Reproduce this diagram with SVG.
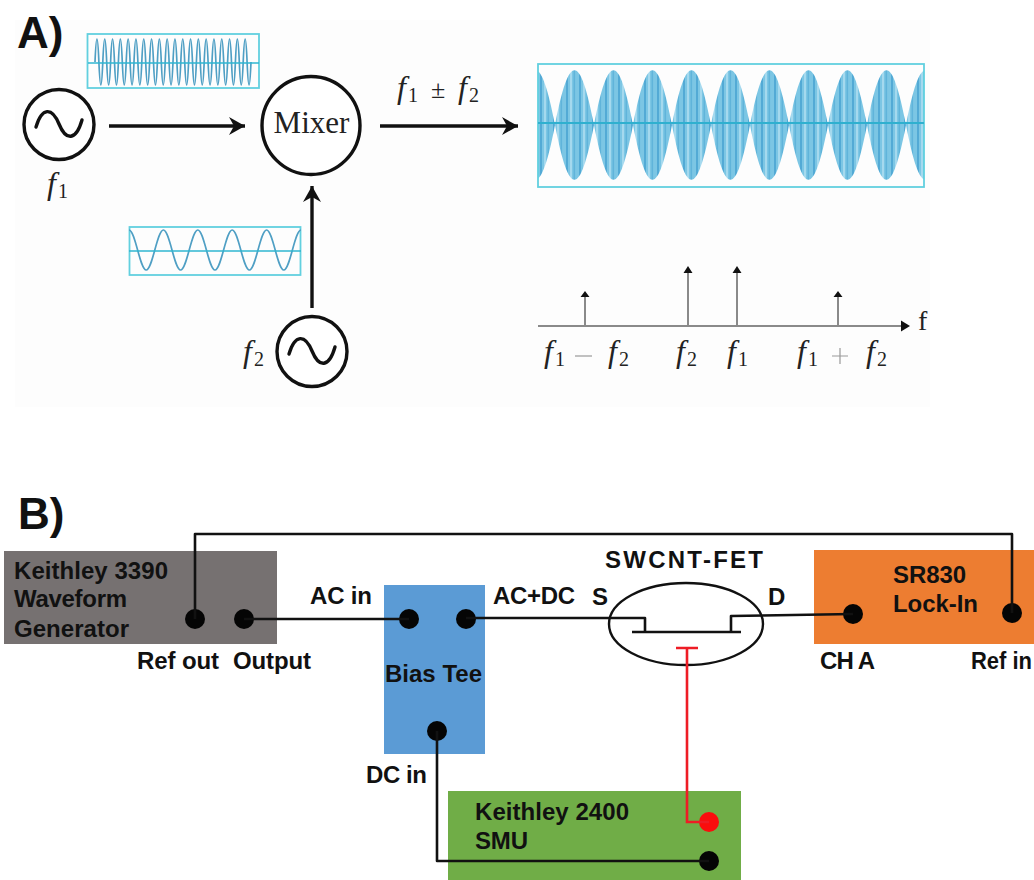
<svg xmlns="http://www.w3.org/2000/svg" width="1034" height="880" viewBox="0 0 1034 880">
<style>
.ser{font-family:"Liberation Serif","Times New Roman",serif;fill:#222}
.it{font-style:italic;font-size:32px}
.sub{font-size:20px;font-style:normal}
.b{font-family:"Liberation Sans",Arial,sans-serif;font-weight:700;font-size:24px;fill:#111}
.head{font-family:"Liberation Sans",Arial,sans-serif;font-weight:700;font-size:44px;fill:#111}
.box{fill:none;stroke:#62d0df;stroke-width:1.8}
.mid{fill:none;stroke:#2fb6d0;stroke-width:1.5}
.sig{fill:none;stroke:#4f9fc4;stroke-width:1.7}
.ring{fill:#fff;stroke:#111;stroke-width:3.4}
.til{fill:none;stroke:#111;stroke-width:3.4;stroke-linecap:round}
.arr{fill:none;stroke:#111;stroke-width:3.4;marker-end:url(#ah)}
.stem{fill:none;stroke:#8a8a8a}
.w{fill:none;stroke:#111;stroke-width:2.6;stroke-linejoin:round}
.dot{fill:#050505}
</style>
<defs>
<marker id="ah" markerUnits="userSpaceOnUse" markerWidth="20" markerHeight="20" refX="16" refY="9" orient="auto"><path d="M0 0L16 9L0 18L5 9Z" fill="#111"/></marker>
<filter id="soft" x="-5%" y="-5%" width="110%" height="110%"><feGaussianBlur stdDeviation="0.6"/></filter>
<pattern id="st" patternUnits="userSpaceOnUse" x="538" y="0" width="13" height="10">
<rect width="13" height="10" fill="#7cc6e4"/>
<rect x="2" width="2" height="10" fill="#52aad5"/>
<rect x="6" width="2" height="10" fill="#a5d9ee"/>
<rect x="9.500" width="1.600" height="10" fill="#60b4da"/>
</pattern>
<clipPath id="cb"><rect x="538" y="64" width="386" height="123"/></clipPath>
</defs>
<rect width="1034" height="880" fill="#fff"/>
<rect x="15" y="20" width="915" height="387" fill="#fdfdfd"/>

<text class="head" x="17" y="48">A)</text>
<text class="head" x="18" y="529">B)</text>

<g id="wave-f1">
<rect class="box" x="87.500" y="34" width="171.500" height="54"/>
<path class="sig" filter="url(#soft)" d="M95 62q1.950-46 3.900 0t3.900 0t3.900 0t3.900 0t3.900 0t3.900 0t3.900 0t3.900 0t3.900 0t3.900 0t3.900 0t3.900 0t3.900 0t3.900 0t3.900 0t3.900 0t3.900 0t3.900 0t3.900 0t3.900 0t3.900 0t3.900 0t3.900 0t3.900 0t3.900 0t3.900 0t3.900 0t3.900 0t3.900 0t3.900 0t3.900 0t3.900 0t3.900 0t3.900 0t3.900 0t3.900 0t3.900 0t3.900 0t3.900 0t3.900 0"/>
<path class="mid" d="M88 63H259"/>
</g>
<g id="source-f1">
<circle class="ring" cx="59" cy="124.500" r="35"/>
<path class="til" d="M36 127C42 107 52 107 59 124C66 141 76 141 82 120"/>
<text class="ser it" x="47" y="194">f<tspan class="sub" dy="4" dx="2">1</tspan></text>
</g>
<g id="mixer">
<circle class="ring" cx="311" cy="125.500" r="49"/>
<text class="ser" x="311.500" y="133" font-size="31" text-anchor="middle">Mixer</text>
</g>
<g id="wave-f2">
<rect class="box" x="129.500" y="227" width="171" height="48"/>
<path class="sig" filter="url(#soft)" d="M129 230c6.300 0 10.900 40 17.200 40s10.900-40 17.200-40s10.900 40 17.200 40s10.900-40 17.200-40s10.900 40 17.200 40s10.900-40 17.200-40s10.900 40 17.200 40s10.900-40 17.200-40s10.900 40 17.200 40s10.900-40 17.200-40"/>
<path class="mid" d="M129 251H301"/>
</g>
<g id="source-f2">
<circle class="ring" cx="312" cy="351.500" r="35"/>
<path class="til" d="M289 354C295 334 305 334 312 351C319 368 329 368 335 347"/>
<text class="ser it" x="243" y="362">f<tspan class="sub" dy="4" dx="2">2</tspan></text>
</g>
<g id="output-label">
<text class="ser it" x="397" y="98">f<tspan class="sub" dy="4" dx="2">1</tspan></text>
<text class="ser" x="431" y="98" font-size="26">±</text>
<text class="ser it" x="458" y="98">f<tspan class="sub" dy="4" dx="2">2</tspan></text>
</g>
<g id="mixed-wave">
<g clip-path="url(#cb)">
<path fill="url(#st)" filter="url(#soft)" d="M516 125c14-73 25-73 39 0c14-73 25-73 39 0c14-73 25-73 39 0c14-73 25-73 39 0c14-73 25-73 39 0c14-73 25-73 39 0c14-73 25-73 39 0c14-73 25-73 39 0c14-73 25-73 39 0c14-73 25-73 39 0c14-73 25-73 39 0V125c-14 73-25 73-39 0c-14 73-25 73-39 0c-14 73-25 73-39 0c-14 73-25 73-39 0c-14 73-25 73-39 0c-14 73-25 73-39 0c-14 73-25 73-39 0c-14 73-25 73-39 0c-14 73-25 73-39 0c-14 73-25 73-39 0c-14 73-25 73-39 0Z"/>
</g>
<rect class="box" x="538" y="64" width="386" height="123"/>
<path d="M538 123H924" fill="none" stroke="#2fb0cf" stroke-width="1.800"/>
</g>
<g id="spectrum">
<path class="stem" stroke-width="2" d="M538 326H902"/>
<path d="M901 320.500L910 326L901 331.500Z" fill="#111"/>
<path class="stem" stroke-width="2" d="M585 326V296M688 326V272M737 326V272M838 326V296"/>
<path d="M585 291L589.500 297H580.500ZM688 266L692.500 273H683.500ZM737 266L741.500 273H732.500ZM838 291L842.500 297H833.500Z" fill="#111"/>
<text class="ser" x="918" y="330" font-size="28">f</text>
<text class="ser it" x="544" y="362">f<tspan class="sub" dy="4" dx="2">1</tspan></text>
<path d="M575 356H592" stroke="#999" stroke-width="1.200"/>
<text class="ser it" x="608" y="362">f<tspan class="sub" dy="4" dx="2">2</tspan></text>
<text class="ser it" x="676" y="362">f<tspan class="sub" dy="4" dx="2">2</tspan></text>
<text class="ser it" x="727" y="362">f<tspan class="sub" dy="4" dx="2">1</tspan></text>
<text class="ser it" x="797" y="362">f<tspan class="sub" dy="4" dx="2">1</tspan></text>
<path d="M832 356H848M840 348V364" stroke="#999" stroke-width="1.200"/>
<text class="ser it" x="866" y="362">f<tspan class="sub" dy="4" dx="2">2</tspan></text>
</g>

<g id="waveform-generator">
<rect x="4" y="551" width="273" height="93" fill="#767171"/>
<text class="b" x="14" y="579" textLength="154">Keithley 3390</text>
<text class="b" x="14" y="607" textLength="113">Waveform</text>
<text class="b" x="14" y="637" textLength="115">Generator</text>
<circle class="dot" cx="195" cy="619" r="10"/>
<circle class="dot" cx="244" cy="619" r="10"/>
</g>
<g id="bias-tee">
<rect x="384" y="585" width="101" height="169" fill="#5b9bd5"/>
<text class="b" x="385" y="682" textLength="97">Bias Tee</text>
<circle class="dot" cx="409" cy="619" r="10"/>
<circle class="dot" cx="466" cy="619" r="10"/>
<circle class="dot" cx="437" cy="731" r="10"/>
</g>
<g id="lock-in">
<rect x="814" y="550" width="220" height="94" fill="#ed7d31"/>
<text class="b" x="893" y="583" textLength="73">SR830</text>
<text class="b" x="893" y="612" textLength="85">Lock-In</text>
<circle class="dot" cx="853" cy="614" r="10"/>
<circle class="dot" cx="1012" cy="613" r="10"/>
</g>
<g id="smu">
<rect x="448" y="791" width="293" height="89" fill="#70ad47"/>
<text class="b" x="475" y="820" textLength="154">Keithley 2400</text>
<text class="b" x="475" y="849" textLength="53">SMU</text>
<circle cx="709" cy="822" r="10" fill="#fa0d0d"/>
<circle class="dot" cx="709" cy="861" r="10"/>
</g>
<g id="swcnt-fet">
<ellipse cx="686" cy="624" rx="77" ry="41" fill="none" stroke="#111" stroke-width="2.400"/>
<path class="w" d="M632 632H741"/>
<text class="b" x="605" y="568" textLength="158">SWCNT-FET</text>
</g>

<g id="connectors">
<path class="arr" d="M109 126H245"/>
<path class="arr" d="M380 126H518"/>
<path class="arr" d="M312 308V186"/>
<path class="w" d="M195 619V534H1012V613"/>
<path class="w" d="M244 619H409"/>
<path class="w" d="M466 618H645V632"/>
<path class="w" d="M731 632V616L853 614"/>
<path class="w" d="M437 731V861H709"/>
<path fill="none" stroke="#ee1c25" stroke-width="2.600" d="M676 648H698M687 648V822H709"/>
</g>

<g id="labels">
<text class="b" x="137" y="669" textLength="82">Ref out</text>
<text class="b" x="233" y="669" textLength="78">Output</text>
<text class="b" x="310" y="604" textLength="62">AC in</text>
<text class="b" x="493" y="604" textLength="82">AC+DC</text>
<text class="b" x="592" y="605">S</text>
<text class="b" x="768" y="605">D</text>
<text class="b" x="820" y="669" textLength="55">CH A</text>
<text class="b" x="971" y="669" font-size="23" style="font-size:23px" textLength="61" lengthAdjust="spacingAndGlyphs">Ref in</text>
<text class="b" x="366" y="783" textLength="61">DC in</text>
</g>
</svg>
